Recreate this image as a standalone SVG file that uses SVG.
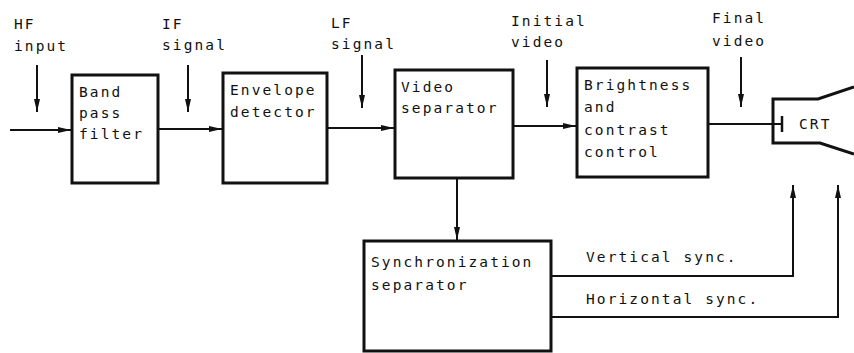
<svg xmlns="http://www.w3.org/2000/svg" width="854" height="353" viewBox="0 0 854 353">
<style>
.box{fill:#fff;stroke:#111;stroke-width:3}
.ln{fill:none;stroke:#111;stroke-width:2}
text{font-family:"DejaVu Sans Mono","Liberation Mono",monospace;font-size:14.5px;fill:#111;letter-spacing:2.1px}
</style>
<defs>
<marker id="ah" markerWidth="14" markerHeight="8" refX="13" refY="4" orient="auto" markerUnits="userSpaceOnUse">
<path d="M0,1 L13,4 L0,7 Z" fill="#111"/>
</marker>
</defs>
<rect width="854" height="353" fill="#fff"/>
<g id="connectors">
<path class="ln" d="M10 130 H71" marker-end="url(#ah)"/>
<path class="ln" d="M158 129 H222" marker-end="url(#ah)"/>
<path class="ln" d="M327 128 H394" marker-end="url(#ah)"/>
<path class="ln" d="M513 126 H576" marker-end="url(#ah)"/>
<path class="ln" d="M708 124 H782"/>
<path class="ln" d="M457 178 V240" marker-end="url(#ah)"/>
<path class="ln" d="M551 276 H793 V185" marker-end="url(#ah)"/>
<path class="ln" d="M551 317 H838 V185" marker-end="url(#ah)"/>
<path class="ln" d="M37 65 V112" marker-end="url(#ah)"/>
<path class="ln" d="M188 65 V112" marker-end="url(#ah)"/>
<path class="ln" d="M362 55 V108" marker-end="url(#ah)"/>
<path class="ln" d="M547 60 V107" marker-end="url(#ah)"/>
<path class="ln" d="M741 57 V107" marker-end="url(#ah)"/>
</g>
<g id="labels">
<text x="14" y="29">HF</text>
<text x="14" y="51">input</text>
<text x="162" y="29">IF</text>
<text x="162" y="50">signal</text>
<text x="331" y="28">LF</text>
<text x="331" y="49">signal</text>
<text x="511" y="26">Initial</text>
<text x="511" y="47">video</text>
<text x="712" y="23">Final</text>
<text x="712" y="46">video</text>
<text x="586" y="262">Vertical sync.</text>
<text x="586" y="304">Horizontal sync.</text>
</g>
<g id="bandpass">
<rect class="box" x="72" y="75" width="86" height="108"/>
<text x="79" y="97">Band</text>
<text x="79" y="118">pass</text>
<text x="79" y="139">filter</text>
</g>
<g id="envelope">
<rect class="box" x="223" y="73" width="104" height="110"/>
<text x="230" y="95">Envelope</text>
<text x="230" y="117">detector</text>
</g>
<g id="videosep">
<rect class="box" x="395" y="70" width="118" height="108"/>
<text x="401" y="92">Video</text>
<text x="401" y="113">separator</text>
</g>
<g id="brightness">
<rect class="box" x="577" y="68" width="131" height="109"/>
<text x="584" y="90">Brightness</text>
<text x="584" y="112">and</text>
<text x="584" y="135">contrast</text>
<text x="584" y="157">control</text>
</g>
<g id="sync">
<rect class="box" x="364" y="241" width="187" height="110"/>
<text x="371" y="267">Synchronization</text>
<text x="371" y="290">separator</text>
</g>
<g id="crt">
<path d="M854 87 L818 99 L773 99 L773 143 L820 143 L854 154" fill="none" stroke="#111" stroke-width="3"/>
<path d="M782 116 V132" stroke="#111" stroke-width="2.5"/>
<text x="799" y="129">CRT</text>
</g>
</svg>
